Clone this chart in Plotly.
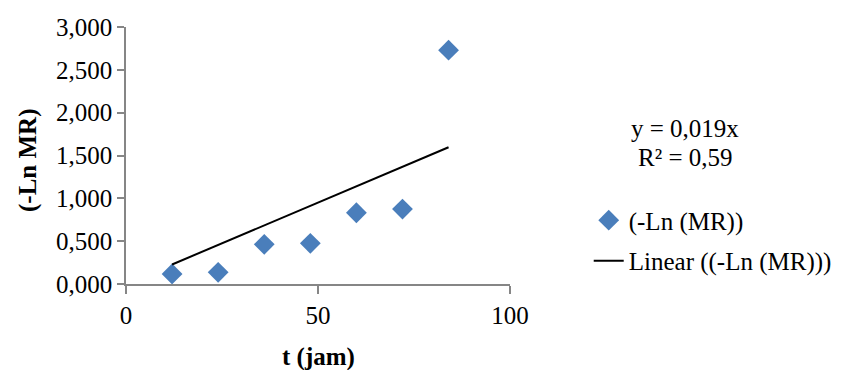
import plotly.graph_objects as go

# Data
t_jam = [12, 24, 36, 48, 60, 72, 84]
neg_ln_mr = [0.117, 0.136, 0.463, 0.475, 0.832, 0.875, 2.73]
slope = 0.019
trend_x = [12, 84]
trend_y = [slope * v for v in trend_x]
x_ticks = [0, 50, 100]
y_ticks = [0, 0.5, 1.0, 1.5, 2.0, 2.5, 3.0]
y_tick_labels = ["0,000", "0,500", "1,000", "1,500", "2,000", "2,500", "3,000"]

FONT = "Liberation Serif"
FS = 25
AXIS_COLOR = "#868686"

fig = go.Figure()
fig.add_trace(go.Scatter(
    x=t_jam, y=neg_ln_mr, mode="markers", name="(-Ln (MR))",
    marker=dict(symbol="diamond", size=16, color="#4a7ebb", line=dict(width=0)),
    legendgroup="a",
))
fig.add_trace(go.Scatter(
    x=trend_x, y=trend_y, mode="lines", name="Linear ((-Ln (MR)))",
    line=dict(color="black", width=2),
    legendgroup="b",
))

fig.update_layout(
    width=846, height=370,
    margin=dict(l=126, r=336, t=27, b=86, autoexpand=False),
    paper_bgcolor="white", plot_bgcolor="white",
    font=dict(family=FONT, size=FS, color="black"),
    showlegend=True,
    legend=dict(x=1.205, y=0.337, xanchor="left", yanchor="top",
                font=dict(family=FONT, size=FS, color="black"),
                bgcolor="rgba(0,0,0,0)", tracegroupgap=5),
    xaxis=dict(range=[0, 100], tickvals=x_ticks, ticktext=[str(v) for v in x_ticks],
               showgrid=False, zeroline=False, showline=True, linecolor=AXIS_COLOR, linewidth=1.5,
               ticks="outside", ticklen=8, tickcolor=AXIS_COLOR, tickwidth=1.5,
               tickfont=dict(family=FONT, size=FS, color="black")),
    yaxis=dict(range=[0, 3], tickvals=y_ticks, ticktext=y_tick_labels,
               showgrid=False, zeroline=False, showline=True, linecolor=AXIS_COLOR, linewidth=1.5,
               ticks="outside", ticklen=7, tickcolor=AXIS_COLOR, tickwidth=1.5,
               tickfont=dict(family=FONT, size=FS, color="black")),
    annotations=[
        dict(text="<b>t (jam)</b>", xref="paper", yref="paper", x=0.5, y=-0.285,
             xanchor="center", yanchor="middle", showarrow=False,
             font=dict(family=FONT, size=FS, color="black")),
        dict(text="<b>(-Ln MR)</b>", xref="paper", yref="paper", x=-0.257, y=0.48,
             xanchor="center", yanchor="middle", showarrow=False, textangle=-90,
             font=dict(family=FONT, size=FS, color="black")),
        dict(text="y = 0,019x", xref="paper", yref="paper", x=1.456, y=0.607,
             xanchor="center", yanchor="middle", showarrow=False,
             font=dict(family=FONT, size=FS, color="black")),
        dict(text="R² = 0,59", xref="paper", yref="paper", x=1.456, y=0.494,
             xanchor="center", yanchor="middle", showarrow=False,
             font=dict(family=FONT, size=FS, color="black")),
    ],
)

fig.write_html("out.html")
